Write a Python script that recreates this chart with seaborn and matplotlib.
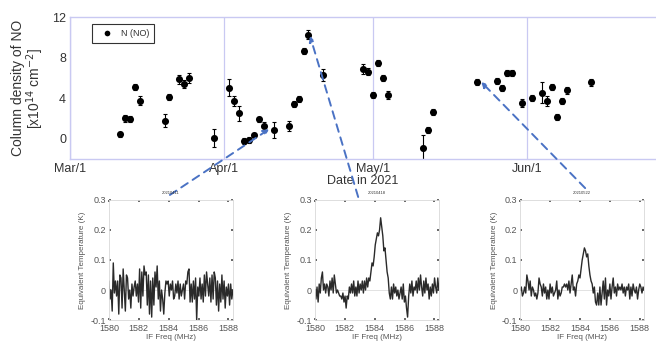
import numpy as np
import pandas as pd
import matplotlib
matplotlib.use("Agg")
import matplotlib.pyplot as plt
import matplotlib.dates as mdates
import seaborn as sns

# Column density of NO per observing day
obs_dates = [
    "2021-03-11", "2021-03-12", "2021-03-13", "2021-03-14", "2021-03-15", "2021-03-20",
    "2021-03-21", "2021-03-23", "2021-03-24", "2021-03-25", "2021-03-30",
    "2021-04-02", "2021-04-03", "2021-04-04", "2021-04-05", "2021-04-06", "2021-04-07",
    "2021-04-08", "2021-04-09", "2021-04-11", "2021-04-14", "2021-04-15", "2021-04-16",
    "2021-04-17", "2021-04-18", "2021-04-21", "2021-04-29", "2021-04-30",
    "2021-05-01", "2021-05-02", "2021-05-03", "2021-05-04", "2021-05-11", "2021-05-12",
    "2021-05-13", "2021-05-22", "2021-05-26", "2021-05-27", "2021-05-28", "2021-05-29",
    "2021-05-31",
    "2021-06-02", "2021-06-04", "2021-06-05", "2021-06-06", "2021-06-07", "2021-06-08",
    "2021-06-09", "2021-06-14",
]
no_density = [
    0.45, 2.0, 1.95, 5.15, 3.75, 1.8, 4.1, 5.85, 5.4, 6.0, 0.1,
    5.05, 3.75, 2.5, -0.25, -0.15, 0.4, 1.9, 1.3, 0.85, 1.3, 3.45, 3.95, 8.65, 10.25, 6.3,
    6.9, 6.6,
    4.35, 7.5, 5.95, 4.3, -0.95, 0.9, 2.65, 5.6, 5.7, 5.05, 6.5, 6.5, 3.5,
    4.0, 4.55, 3.75, 5.1, 2.15, 3.7, 4.8, 5.55,
]
no_error = [
    0.25, 0.35, 0.3, 0.3, 0.45, 0.6, 0.3, 0.4, 0.35, 0.5, 0.9,
    0.8, 0.5, 0.7, 0.3, 0.3, 0.2, 0.25, 0.4, 0.8, 0.5, 0.3, 0.3, 0.3, 0.45, 0.6,
    0.5, 0.35,
    0.3, 0.3, 0.3, 0.4, 1.3, 0.3, 0.3, 0.3, 0.3, 0.3, 0.3, 0.3, 0.4,
    0.3, 1.0, 0.5, 0.3, 0.3, 0.3, 0.35, 0.3,
]

month_ticks = ["2021-03-01", "2021-04-01", "2021-05-01", "2021-06-01"]
month_labels = ["Mar/1", "Apr/1", "May/1", "Jun/1"]

# Spectra shown below the time series
spec_titles = ["20210411", "20210418", "20210522"]
spec_0411 = [
    0.03, -0.03, 0.0, -0.07, 0.09, -0.01, 0.03, -0.02, 0.03, -0.08, 0.05, 0.04, -0.06,
    0.07, 0.0, -0.07, 0.05, 0.04, -0.03, 0.0, -0.06, 0.02, -0.02, 0.01, 0.03, -0.02,
    0.02, -0.04, 0.07, -0.06, 0.06, -0.02, 0.08, 0.05, 0.06, -0.05, 0.05, -0.08, 0.03,
    -0.09, 0.04, -0.05, 0.06, 0.01, 0.08, -0.03, 0.03, -0.07, 0.0, -0.03, -0.08, -0.01,
    0.03, 0.02, 0.03, -0.02, 0.02, 0.0, 0.03, -0.03, -0.02, 0.02, -0.01, 0.03, -0.03,
    0.02, -0.02, 0.0, 0.02, -0.03, 0.03, 0.02, 0.06, 0.07, -0.04, 0.02, -0.04, 0.03,
    -0.03, 0.04, -0.10, 0.01, -0.02, 0.04, -0.03, 0.02, -0.04, 0.05, -0.02, 0.06, 0.02,
    -0.02, 0.04, -0.04, 0.05, -0.03, 0.06, 0.04, -0.05, 0.03, -0.07, 0.02, -0.04, 0.05,
    -0.03, 0.03, -0.06, 0.01, -0.02, 0.02, -0.05, 0.02, -0.03, 0.0,
]
spec_0418 = [
    0.0, -0.03, 0.01, -0.04, 0.02, -0.01, 0.04, 0.06, 0.0, 0.02, -0.01, 0.02, 0.01,
    -0.02, 0.03, 0.0, 0.04, -0.01, 0.05, 0.02, -0.01, 0.0, -0.01, -0.02, -0.02, -0.03,
    -0.01, -0.04, -0.02, -0.06, -0.02, -0.03, 0.01, -0.01, 0.02, -0.01, 0.03, -0.02,
    0.01, -0.02, 0.03, -0.01, 0.02, 0.0, 0.03, -0.01, 0.03, 0.0, 0.04, 0.01, 0.04, 0.03,
    0.06, 0.09, 0.08, 0.11, 0.15, 0.17, 0.19, 0.18, 0.20, 0.24, 0.21, 0.18, 0.13, 0.14,
    0.10, 0.06, 0.04, -0.01, -0.03, 0.01, -0.03, 0.02, -0.01, 0.01, -0.02, 0.0, -0.03,
    -0.01, 0.01, -0.03, 0.02, -0.04, -0.02, -0.06, -0.09, -0.02, 0.02, -0.01, 0.03,
    -0.02, 0.01, 0.0, 0.03, -0.01, 0.04, 0.0, 0.05, 0.01, -0.02, 0.03, -0.01, 0.04, 0.0,
    0.02, -0.03, 0.01, -0.02, 0.02, -0.01, 0.04, 0.01, -0.01, 0.04, 0.0,
]
spec_0522 = [
    0.0, 0.01, -0.02, -0.01, 0.01, -0.01, 0.05, 0.03, 0.0, 0.03, -0.02, 0.01, 0.0, -0.02,
    -0.01, -0.03, -0.01, 0.04, 0.02, 0.01, -0.02, 0.02, -0.01, 0.01, -0.03, 0.0, -0.03,
    0.02, -0.01, 0.01, -0.02, -0.01, 0.0, 0.03, -0.03, 0.0, -0.02, -0.01, 0.01, 0.01,
    0.02, 0.01, 0.02, 0.0, 0.03, -0.01, 0.02, 0.05, 0.0, 0.01, -0.02, 0.02, 0.03, 0.05,
    0.04, 0.07, 0.10, 0.12, 0.14, 0.13, 0.11, 0.12, 0.08, 0.05, 0.03, 0.02, -0.01, 0.01,
    -0.04, -0.05, -0.01, -0.05, 0.01, -0.05, -0.01, 0.03, -0.03, 0.04, -0.05, 0.0, -0.02,
    0.02, -0.03, 0.01, 0.04, -0.01, 0.01, -0.02, 0.02, 0.0, 0.01, 0.0, 0.02, -0.01, 0.01,
    -0.02, 0.01, 0.0, 0.02, -0.03, 0.01, -0.02, 0.02, 0.0, -0.01, 0.01, -0.03, 0.0, 0.02,
    0.01, -0.01, 0.01, 0.0,
]
spec_values = [spec_0411, spec_0418, spec_0522]
# which observation each spectrum belongs to
spec_dates = ["2021-04-11", "2021-04-18", "2021-05-22"]

FREQ_LO, FREQ_HI = 1580.0, 1588.3
FRAME = "#c9c9f2"
ARROW = "#4a72c4"
TEXT = "#333333"

sns.set_theme(style="white")
plt.rcParams["font.family"] = ["Liberation Sans", "DejaVu Sans"]

df = pd.DataFrame({"date": pd.to_datetime(obs_dates), "N": no_density, "err": no_error})

fig = plt.figure(figsize=(6.56, 3.42), dpi=100)
ax = fig.add_axes([0.107, 0.535, 0.893, 0.415])

ax.errorbar(df["date"], df["N"], yerr=df["err"], fmt="none", ecolor="black",
            elinewidth=0.8, capsize=1.6, capthick=0.8, zorder=2)
sns.scatterplot(data=df, x="date", y="N", color="black", s=26, edgecolor="black",
                linewidth=0, label="N (NO)", ax=ax, zorder=3)

ax.set_xlim(pd.Timestamp("2021-03-01"), pd.Timestamp("2021-06-27"))
ax.set_ylim(-2, 12)
ax.set_yticks([0, 4, 8, 12])
ax.set_xticks(pd.to_datetime(month_ticks))
ax.set_xticklabels(month_labels)
ax.tick_params(axis="both", length=0, labelsize=9, colors=TEXT, pad=3)
ax.xaxis.grid(True, color=FRAME, lw=0.9)
for side in ["left", "bottom", "top"]:
    ax.spines[side].set_color(FRAME)
    ax.spines[side].set_linewidth(1.0)
ax.spines["right"].set_visible(False)
ax.set_xlabel("Date in 2021", fontsize=9, color=TEXT, labelpad=0)
ax.set_ylabel("Column density of NO\n[x10$^{14}$ cm$^{-2}$]", fontsize=10,
              color=TEXT, labelpad=4, linespacing=1.0)

leg = ax.legend(loc="upper left", bbox_to_anchor=(0.03, 0.985), fontsize=6.5,
                frameon=True, fancybox=False, handletextpad=0.4, borderpad=0.55,
                handlelength=2.2, markerscale=0.8)
leg.get_frame().set_edgecolor("black")
leg.get_frame().set_linewidth(0.8)
for t in leg.get_texts():
    t.set_color(TEXT)

# spectra panels
panel_left = [0.166, 0.480, 0.793]
arrow_start = [(0.259, 0.430), (0.546, 0.424), (0.892, 0.450)]
for i, vals in enumerate(spec_values):
    sax = fig.add_axes([panel_left[i], 0.064, 0.189, 0.352])
    spec = pd.DataFrame({"freq": np.linspace(FREQ_LO, FREQ_HI, len(vals)), "T": vals})
    sns.lineplot(data=spec, x="freq", y="T", color="#2a2a2a", lw=1.0, ax=sax)
    sax.axhline(0, color="#dddddd", lw=0.6, zorder=0)
    sax.set_xlim(FREQ_LO, FREQ_HI)
    sax.set_ylim(-0.1, 0.3)
    sax.set_xticks([1580, 1582, 1584, 1586, 1588])
    sax.set_yticks([-0.1, 0, 0.1, 0.2, 0.3])
    sax.set_yticklabels(["-0.1", "0", "0.1", "0.2", "0.3"])
    sax.tick_params(axis="both", labelsize=6.5, colors="#555555", length=1.5,
                    direction="in", top=True, right=True, bottom=True, left=True)
    sax.tick_params(axis="x", pad=3)
    sax.tick_params(axis="y", pad=2)
    for s in sax.spines.values():
        s.set_color("#d8d8d8")
        s.set_linewidth(0.6)
    sax.set_title(spec_titles[i], fontsize=3, color=TEXT, pad=4)
    sax.set_xlabel("IF Freq (MHz)", fontsize=5.8, color="#555555", labelpad=0.5)
    sax.set_ylabel("Equivalent Temperature (K)", fontsize=5.8, color="#555555", labelpad=3)

    k = obs_dates.index(spec_dates[i])
    ax.annotate("", xy=(mdates.date2num(pd.Timestamp(spec_dates[i])), no_density[k] + 0.4),
                xytext=arrow_start[i], textcoords="figure fraction",
                arrowprops=dict(arrowstyle="-|>", color=ARROW, lw=1.4, linestyle=(0, (4, 3)),
                                mutation_scale=8, shrinkA=0, shrinkB=4),
                annotation_clip=False, zorder=5)

fig.savefig("out.png", dpi=100)
